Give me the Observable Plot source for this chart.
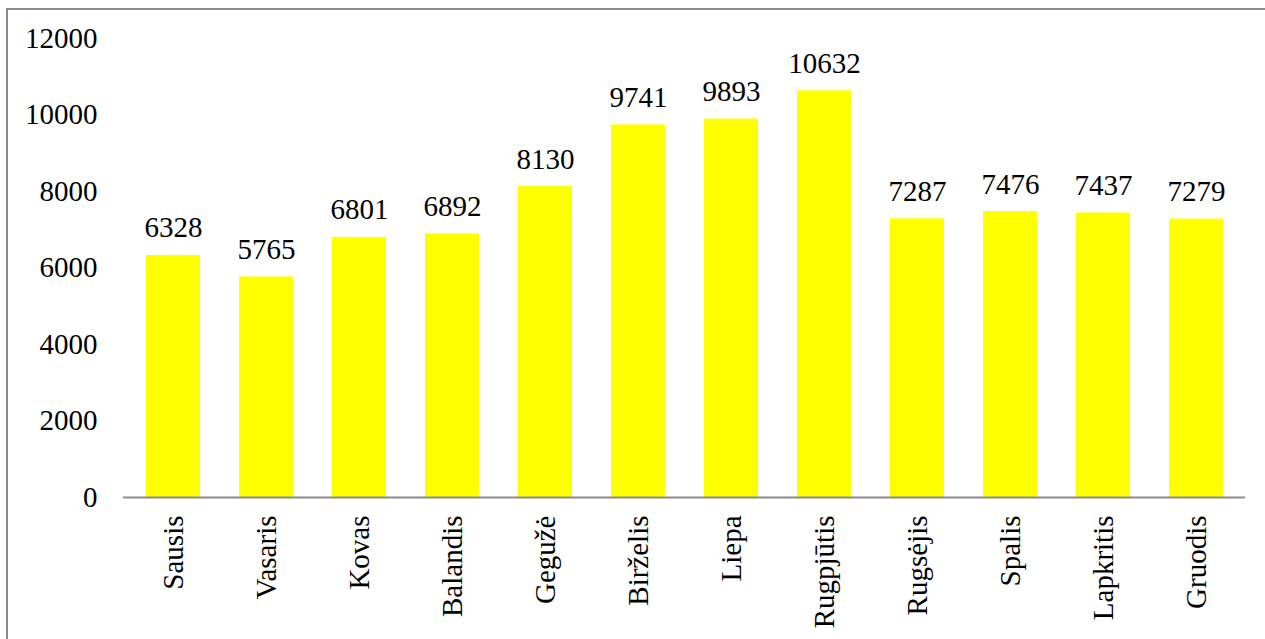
<!DOCTYPE html>
<html>
<head>
<meta charset="utf-8">
<script src="https://cdn.jsdelivr.net/npm/d3@7"></script>
<script src="https://cdn.jsdelivr.net/npm/@observablehq/plot@0.6"></script>
<style>
  html, body { margin: 0; padding: 0; background: #fff; }
  #wrap { position: relative; width: 1265px; height: 639px; overflow: hidden; }
  #border { position: absolute; left: 6px; top: 8px; width: 1300px; height: 700px; border: 2px solid #8a8a8a; box-sizing: border-box; pointer-events: none; }
  #wrap svg, #wrap svg text { font-family: "Liberation Serif", "Times New Roman", serif !important; font-size: 29px !important; }
</style>
</head>
<body>
<div id="wrap"><div id="border"></div></div>
<script>
const months = ["Sausis","Vasaris","Kovas","Balandis","Gegužė","Birželis","Liepa","Rugpjūtis","Rugsėjis","Spalis","Lapkritis","Gruodis"];
const values = [6328,5765,6801,6892,8130,9741,9893,10632,7287,7476,7437,7279];
const yTicks = [0,2000,4000,6000,8000,10000,12000];

const data = months.map((m, i) => ({month: m, value: values[i]}));

const chart = Plot.plot({
  width: 1265,
  height: 639,
  marginLeft: 123,
  marginRight: 20,
  marginTop: 38,
  marginBottom: 142,
  style: "font-family: 'Liberation Serif', serif; font-size: 29px; color: #000; background: transparent;",
  x: {domain: months, paddingInner: 0.42, paddingOuter: 0.21, label: null},
  y: {domain: [0, 12000], label: null},
  marks: [
    Plot.barY(data, {x: "month", y: "value", fill: "#ffff00"}),
    Plot.ruleY([0], {stroke: "#8a8a8a", strokeWidth: 2}),
    Plot.ruleX([0], {frameAnchor: "left", y1: 0, y2: 12000, stroke: "#8a8a8a", strokeWidth: 2}),
    Plot.text(data, {x: "month", y: "value", text: d => String(d.value), dy: -18, lineAnchor: "bottom", fontSize: 29, fill: "#000"}),
    Plot.axisY({ticks: yTicks, tickSize: 0, tickPadding: 26, tickFormat: d => String(d), fontSize: 29, label: null}),
    Plot.axisX({tickSize: 0, tickPadding: 18, tickRotate: -90, fontSize: 29, label: null})
  ]
});
document.getElementById("wrap").appendChild(chart);
chart.style.position = "absolute";
chart.style.left = "0";
chart.style.top = "0";
</script>
</body>
</html>
